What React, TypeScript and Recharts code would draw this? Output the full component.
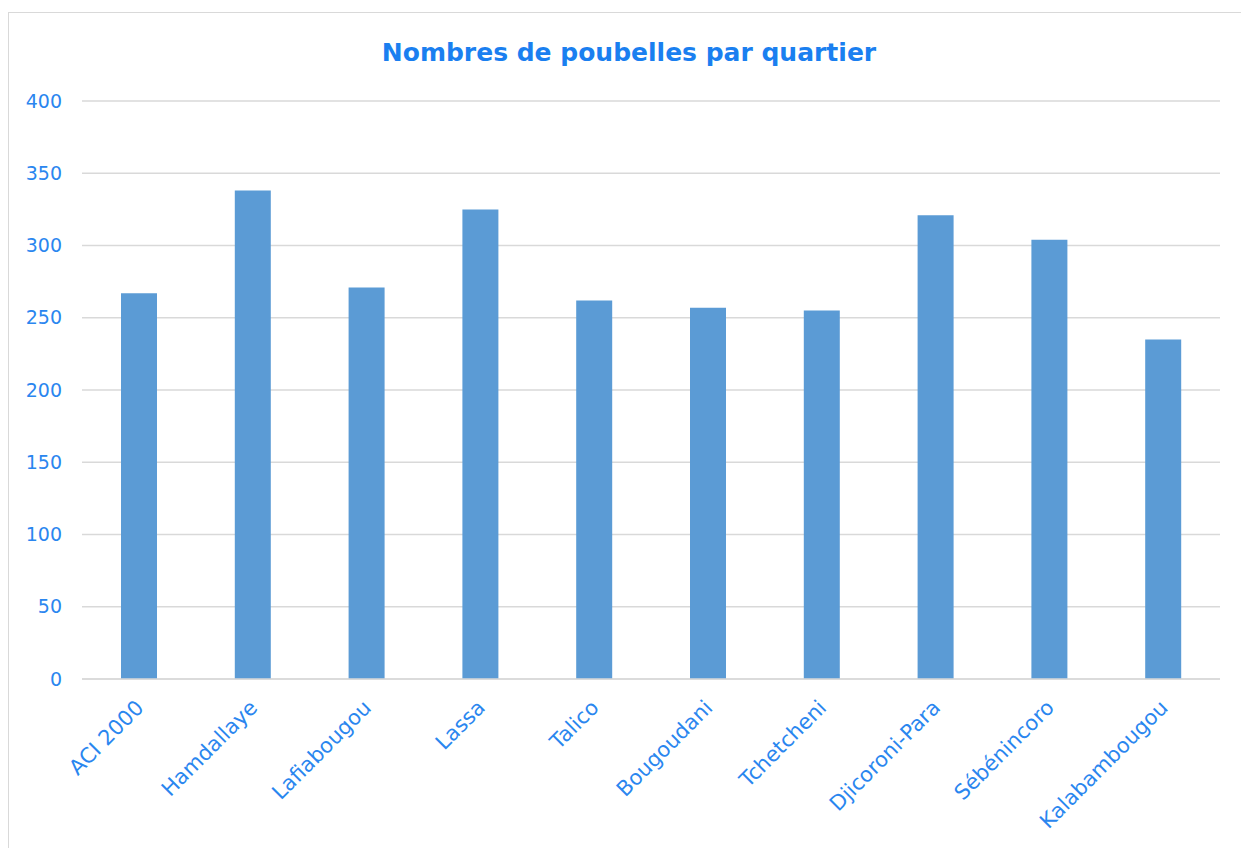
import { BarChart, Bar, XAxis, YAxis, CartesianGrid } from 'recharts'

const quartiers = [
  'ACI 2000', 'Hamdallaye', 'Lafiabougou', 'Lassa', 'Talico',
  'Bougoudani', 'Tchetcheni', 'Djicoroni-Para', 'Sébénincoro', 'Kalabambougou',
]
const poubelles = [267, 338, 271, 325, 262, 257, 255, 321, 304, 235]
const yTicks = [0, 50, 100, 150, 200, 250, 300, 350, 400]

const data = quartiers.map((q, i) => ({ name: q, value: poubelles[i] }))

const BLUE_TEXT = '#2a86ef'
const FONT = '"DejaVu Sans", sans-serif'

function XTick(props: any) {
  const { x, y, payload } = props
  const tx = Number(x) + 6
  const ty = Number(y) + 30
  return (
    <text x={tx} y={ty} textAnchor="end" fontSize={21} fontFamily={FONT} fill={BLUE_TEXT}
      transform={`rotate(-45, ${tx}, ${ty})`}>
      {payload.value}
    </text>
  )
}

export default function App() {
  return (
    <div style={{ position: 'fixed', left: 0, top: 0, width: 1241, height: 848, overflow: 'hidden', background: '#fff' }}>
      <div style={{ position: 'absolute', left: 8, top: 12, width: 1300, height: 900, border: '1px solid #d9d9d9' }} />
      <div style={{
        position: 'absolute', left: 0, top: 40, width: 1258, textAlign: 'center',
        fontFamily: FONT, fontWeight: 700, fontSize: 25, lineHeight: '25px', color: '#1a7ff0',
      }}>
        Nombres de poubelles par quartier
      </div>
      <div style={{ position: 'absolute', left: 0, top: 0 }}>
        <BarChart width={1241} height={848} data={data}
          margin={{ top: 101, right: 21, left: 10, bottom: 0 }}>
          <CartesianGrid vertical={false} stroke="#d9d9d9" strokeWidth={1.5} />
          <XAxis dataKey="name" interval={0} height={169} tickLine={false} tickSize={0} tickMargin={0}
            axisLine={{ stroke: '#d9d9d9', strokeWidth: 1.5 }} tick={<XTick />} />
          <YAxis domain={[0, 400]} ticks={yTicks} width={72} axisLine={false} tickLine={false}
            tickSize={6} tickMargin={14}
            tick={{ fill: BLUE_TEXT, fontSize: 19, fontFamily: FONT }} />
          <Bar dataKey="value" fill="#5b9bd5" barSize={36} isAnimationActive={false} />
        </BarChart>
      </div>
    </div>
  )
}
